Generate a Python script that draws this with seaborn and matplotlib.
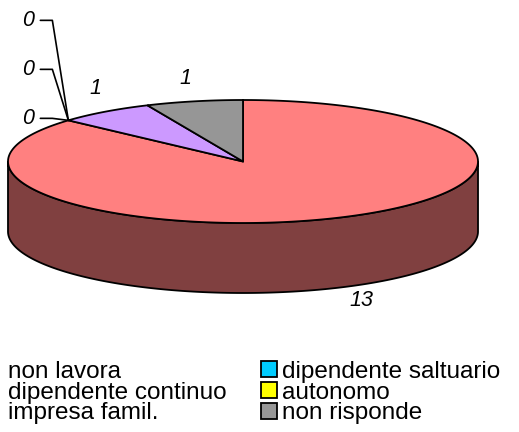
import numpy as np
import matplotlib
matplotlib.use("Agg")
import matplotlib.pyplot as plt
from matplotlib.patches import Polygon, Patch
import seaborn as sns

# data (pie order, clockwise from 12 o'clock)
categories = ["non lavora", "dipendente saltuario", "dipendente continuo",
              "autonomo", "impresa famil.", "non risponde"]
values = [13, 0, 0, 0, 1, 1]
top_colors = ["#FF8080", "#00CCFF", "#FFFFCC", "#FFFF00", "#CC99FF", "#969696"]
side_colors = ["#804040", "#006680", "#808066", "#808000", "#664C80", "#4B4B4B"]
# legend order (column-wise as matplotlib fills it)
legend_order = [0, 2, 4, 1, 3, 5]
legend_swatch = [False, False, False, True, True, True]

sns.set_theme(style="white")
plt.rcParams["font.family"] = ["Liberation Sans", "DejaVu Sans"]

# pie geometry in pixel space
cx, cy = 243, 161.5
ra, rb = 235, 61.5
depth = 70

fig = plt.figure(figsize=(5.19, 4.32), dpi=100)
ax = fig.add_axes([0, 0, 1, 1])
ax.set_xlim(0, 519)
ax.set_ylim(432, 0)
ax.axis("off")

total = sum(values)
angles = [90.0]
for v in values:
    angles.append(angles[-1] - v / total * 360.0)


def ell(t, dy=0):
    t = np.radians(t)
    return np.column_stack([cx + ra * np.cos(t), cy - rb * np.sin(t) + dy])


# side walls (front half only)
for i, v in enumerate(values):
    if v == 0:
        continue
    a0, a1 = angles[i], angles[i + 1]
    lo, hi = max(a1, -180), min(a0, 0)
    if hi > lo:
        t = np.linspace(hi, lo, 200)
        top = ell(t)
        bot = ell(t[::-1], depth)
        ax.add_patch(Polygon(np.vstack([top, bot]), closed=True,
                             facecolor=side_colors[i], edgecolor="black", lw=1.3, zorder=2))

# top wedges
for i, v in enumerate(values):
    if v == 0:
        continue
    t = np.linspace(angles[i], angles[i + 1], 300)
    pts = np.vstack([[cx, cy], ell(t)])
    ax.add_patch(Polygon(pts, closed=True, facecolor=top_colors[i],
                         edgecolor="black", lw=1.3, zorder=3))

# data labels
lab_font = dict(fontsize=15.5, style="italic", color="black")
zero_offsets = [(-34, -100), (-34, -51), (-34, -2)]
zi = 0
for i, v in enumerate(values):
    mid = (angles[i] + angles[i + 1]) / 2
    px, py = ell([mid])[0]
    if v == 0:
        dx, dy = zero_offsets[zi]
        zi += 1
        tx, ty = px + dx, py + dy
        ax.text(tx, ty, str(v), ha="right", va="center", zorder=5, **lab_font)
        ax.plot([tx + 6, tx + 18, px], [ty, ty, py], color="black", lw=1.2, zorder=4)
    elif np.sin(np.radians(mid)) < 0:
        ax.text(px + 23, py + depth + 13, str(v), ha="center", va="center", **lab_font)
    else:
        ax.text(px - 9, py - 23, str(v), ha="center", va="center", **lab_font)

# legend
handles, labels = [], []
for k, i in enumerate(legend_order):
    if legend_swatch[k]:
        handles.append(Patch(facecolor=top_colors[i], edgecolor="black", lw=1.3))
    else:
        handles.append(Patch(facecolor="none", edgecolor="none"))
    labels.append(categories[i])
fig.legend(handles, labels, ncol=2, loc="upper left", bbox_to_anchor=(-0.0245, 0.165),
           frameon=False, fontsize=17.5, labelcolor="black", handlelength=0.65,
           handleheight=0.65, handletextpad=0.2, columnspacing=1.42, labelspacing=-0.05,
           borderpad=0, borderaxespad=0)

fig.savefig("out.png", dpi=100, facecolor="white")
